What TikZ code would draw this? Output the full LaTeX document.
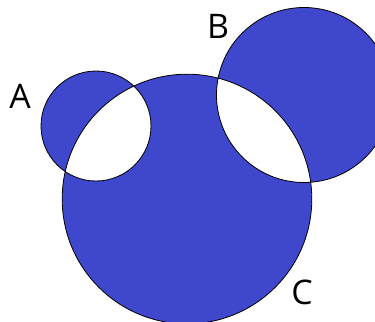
\documentclass[tikz,border=0pt]{standalone}
\usepackage{fontspec}
\setmainfont{Open Sans}
\definecolor{venn}{HTML}{3F48CC}
\begin{document}
\begin{tikzpicture}[x=1bp,y=-1bp,
  setshape/.style={draw=black,line width=0.8bp},
  setlabel/.style={font=\fontsize{34}{34}\selectfont,inner sep=0pt,text=black}]
\useasboundingbox (0,0) rectangle (375,322);
\clip (0,0) rectangle (375,322);
\fill[venn,even odd rule] (96,126) circle (55) (304,95) circle (87.5) (187,199) circle (124.8);
\draw[setshape] (96,126) circle (55);
\draw[setshape] (304,95) circle (87.5);
\draw[setshape] (187,199) circle (124.8);
\node[setlabel] (A) at (20,96) {A};
\node[setlabel] (B) at (218,26) {B};
\node[setlabel] (C) at (302,292) {C};
\end{tikzpicture}
\end{document}
